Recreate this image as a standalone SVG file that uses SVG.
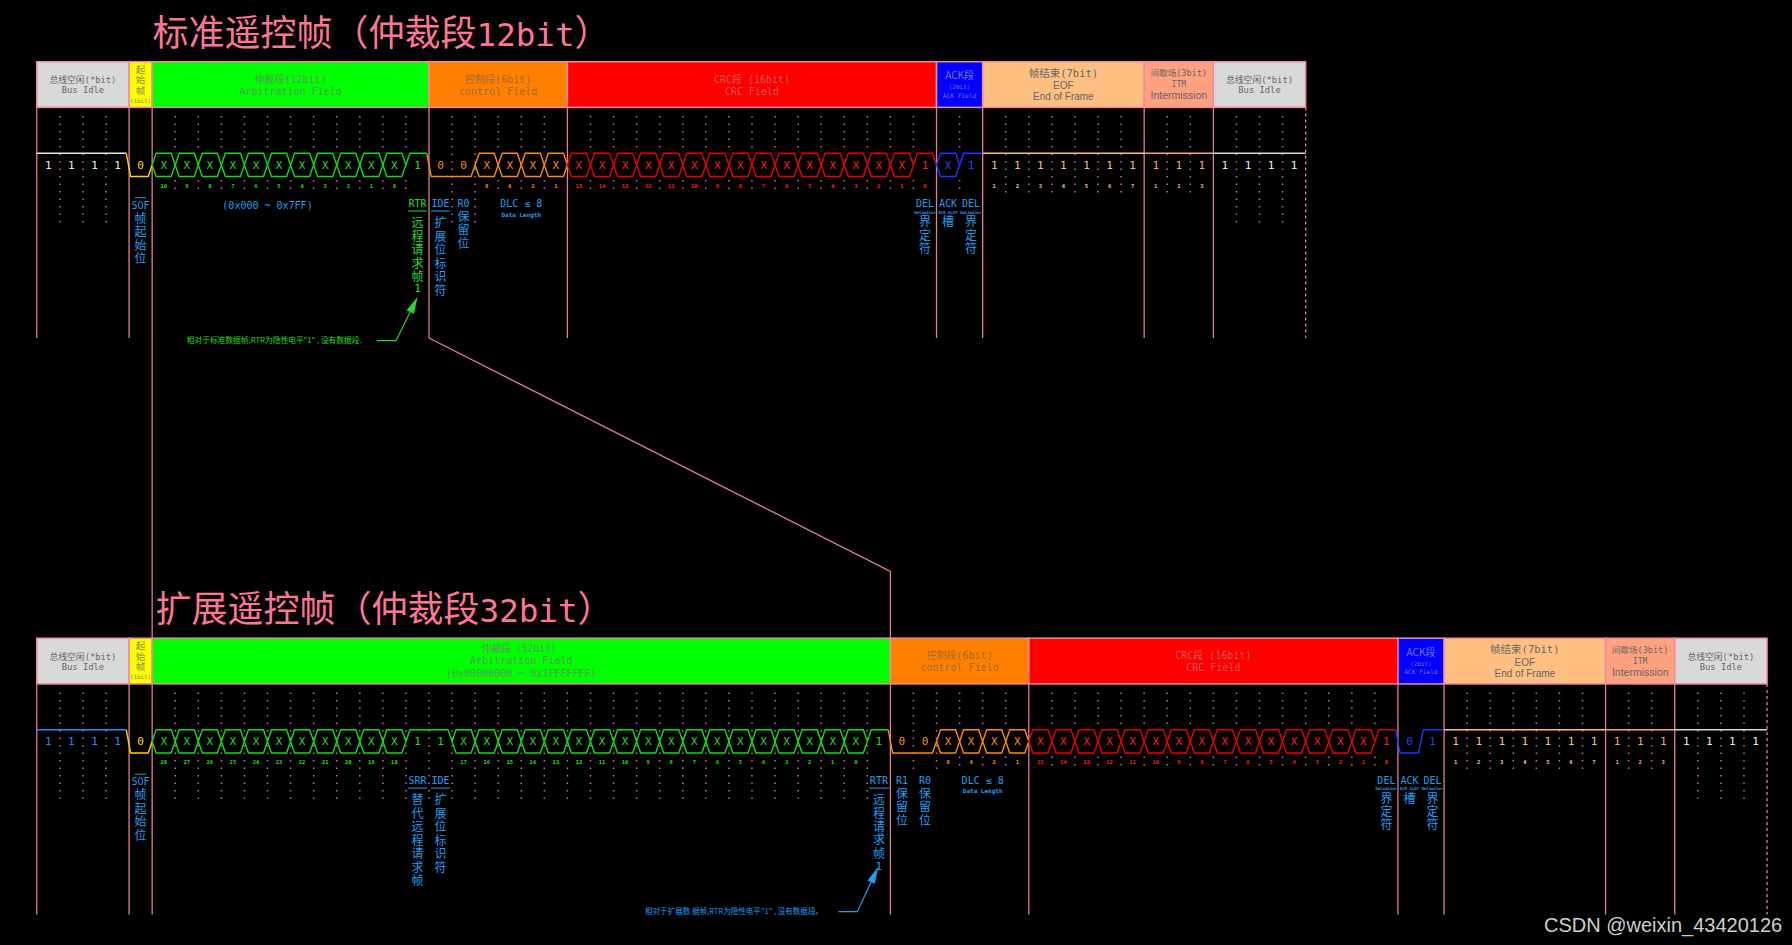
<svg xmlns="http://www.w3.org/2000/svg" width="1792" height="945" viewBox="0 0 1792 945">
<style>
.mono{font-family:"DejaVu Sans Mono","Noto Sans CJK SC",monospace}
.cjk{font-family:"Noto Sans CJK SC","DejaVu Sans",sans-serif}
.sans{font-family:"Liberation Sans","Noto Sans CJK SC",sans-serif}
.ht{text-anchor:middle}
.hdr{stroke:#f08c9c;stroke-width:1.5}
.vl{stroke:#e27d93;stroke-width:1.3;fill:none}
.vd{stroke:#e27d93;stroke-width:1.3;fill:none;stroke-dasharray:3 3}
.dot{stroke:#c8708a;stroke-width:1.5;stroke-dasharray:1.5 6;fill:none}
.w{fill:none;stroke-width:1.4;stroke-linejoin:round}
.val{font-family:"DejaVu Sans Mono",monospace;font-size:11px;text-anchor:middle}
.num{font-family:"DejaVu Sans Mono",monospace;font-size:5.5px;font-weight:bold;text-anchor:middle}
.lab{fill:#1e9ff0}
.title{font-family:"Noto Sans CJK SC","DejaVu Sans Mono",sans-serif;font-size:36px;fill:#ff7596}
.tmono{font-family:"DejaVu Sans Mono",monospace;font-size:32.6px}
.tiny{font-size:4px;font-weight:bold}
</style>
<defs>
<path id="hx" d="M0,0L4,-11.6H19.07L23.07,0L19.07,11.6H4Z" fill="none"/>
</defs>
<rect x="0" y="0" width="1792" height="945" fill="#000"/>

<!-- ================= STANDARD REMOTE FRAME ================= -->
<g id="std-frame">
<g id="std-title"><text class="title" x="152.5" y="45.6">标准遥控帧（仲裁段<tspan class="tmono">12bit</tspan>）</text></g>

<g id="std-header">
<g id="std-busidle1"><rect class="hdr" x="36.8" y="61.7" width="92.28" height="45.7" fill="#d9d9d9"/>
<text class="ht mono" x="82.94" y="83.3" font-size="8.8" fill="#666">总线空闲(*bit)</text><text class="ht mono" x="82.94" y="93.3" font-size="8.8" fill="#666">Bus Idle</text></g>
<g id="std-sof"><rect class="hdr" x="129.08" y="61.7" width="23.07" height="45.7" fill="#ffff00"/>
<text class="ht cjk" x="140.6" y="72.6" font-size="9.5" fill="#8a8a50">起</text><text class="ht cjk" x="140.6" y="83.2" font-size="9.5" fill="#8a8a50">始</text><text class="ht cjk" x="140.6" y="93.8" font-size="9.5" fill="#8a8a50">帧</text><text class="ht mono" x="140.6" y="102.8" font-size="5.8" fill="#8a8a50">(1bit)</text></g>
<g id="std-arb"><rect class="hdr" x="152.15" y="61.7" width="276.85" height="45.7" fill="#00ff00"/>
<text class="ht mono" x="290.6" y="82.8" font-size="10" fill="#5a9a5a">仲裁段(12bit)</text><text class="ht mono" x="290.6" y="94.6" font-size="10" fill="#5a9a5a">Arbitration Field</text></g>
<g id="std-ctrl"><rect class="hdr" x="429" y="61.7" width="138.41" height="45.7" fill="#ff8000"/>
<text class="ht mono" x="498.2" y="82.8" font-size="10" fill="#a86a30">控制段(6bit)</text><text class="ht mono" x="498.2" y="94.6" font-size="10" fill="#a86a30">control Field</text></g>
<g id="std-crc"><rect class="hdr" x="567.41" y="61.7" width="369.12" height="45.7" fill="#ff0000"/>
<text class="ht mono" x="752" y="82.8" font-size="10" fill="#c45a5a">CRC段 (16bit)</text><text class="ht mono" x="752" y="94.6" font-size="10" fill="#c45a5a">CRC Field</text></g>
<g id="std-ack"><rect class="hdr" x="936.53" y="61.7" width="46.14" height="45.7" fill="#0000ff"/>
<text class="ht cjk" x="959.6" y="79.4" font-size="10" fill="#7474c8">ACK段</text><text class="ht mono" x="959.6" y="89.2" font-size="6" fill="#7474c8">(2bit)</text><text class="ht mono" x="959.6" y="97.8" font-size="6.2" fill="#7474c8">ACK Field</text></g>
<g id="std-eof"><rect class="hdr" x="982.67" y="61.7" width="161.49" height="45.7" fill="#ffbf80"/>
<text class="ht mono" x="1063.4" y="76.8" font-size="10.5" fill="#666">帧结束(7bit)</text><text class="ht sans" x="1063.4" y="89" font-size="10" fill="#666">EOF</text><text class="ht sans" x="1063.4" y="100.2" font-size="10" fill="#666">End of Frame</text></g>
<g id="std-itm"><rect class="hdr" x="1144.16" y="61.7" width="69.21" height="45.7" fill="#ffa080"/>
<text class="ht mono" x="1178.8" y="76.2" font-size="8.5" fill="#666">间歇场(3bit)</text><text class="ht mono" x="1178.8" y="87" font-size="8" fill="#666">ITM</text><text class="ht sans" x="1178.8" y="99.4" font-size="10.5" fill="#666">Intermission</text></g>
<g id="std-busidle2"><rect class="hdr" x="1213.37" y="61.7" width="92.28" height="45.7" fill="#d9d9d9"/>
<text class="ht mono" x="1259.5" y="83.3" font-size="8.8" fill="#666">总线空闲(*bit)</text><text class="ht mono" x="1259.5" y="93.3" font-size="8.8" fill="#666">Bus Idle</text></g>
</g>

<g id="std-grid">
<path class="vl" d="M36.8,107.4V338M129.08,107.4V338M152.15,107.4V338M429,107.4V338M567.41,107.4V338M936.53,107.4V338M982.67,107.4V338M1144.16,107.4V338M1213.37,107.4V338"/>
<path class="vd" d="M1305.65,107.4V338"/>
<path class="dot" d="M59.87,116V223M82.94,116V223M106.01,116V223M452.06,116V223M475.13,116V223M1236.44,116V223M1259.51,116V223M1282.58,116V223
M175.22,116V149M175.22,180V193M198.29,116V149M198.29,180V193M221.36,116V149M221.36,180V193M244.43,116V149M244.43,180V193M267.5,116V149M267.5,180V193M290.57,116V149M290.57,180V193M313.64,116V149M313.64,180V193M336.71,116V149M336.71,180V193M359.78,116V149M359.78,180V193M382.85,116V149M382.85,180V193M405.92,116V149M405.92,180V193
M498.2,116V149M498.2,180V193M521.27,116V149M521.27,180V193M544.34,116V149M544.34,180V193
M590.48,116V149M590.48,180V193M613.55,116V149M613.55,180V193M636.62,116V149M636.62,180V193M659.69,116V149M659.69,180V193M682.76,116V149M682.76,180V193M705.83,116V149M705.83,180V193M728.9,116V149M728.9,180V193M751.97,116V149M751.97,180V193M775.04,116V149M775.04,180V193M798.11,116V149M798.11,180V193M821.18,116V149M821.18,180V193M844.25,116V149M844.25,180V193M867.32,116V149M867.32,180V193M890.39,116V149M890.39,180V193M913.46,116V149M913.46,180V193M959.6,116V149M959.6,180V193
M1005.74,116V193M1028.81,116V193M1051.88,116V193M1074.95,116V193M1098.02,116V193M1121.09,116V193M1167.23,116V193M1190.3,116V193"/>
</g>

<g id="std-wave">
<path class="w" stroke="#e8e8e8" d="M36.8,153.3H126.3"/>
<path class="w" stroke="#ffd400" d="M126.3,153.3L130.6,176.5H148.2L152.15,164.9"/>
<g stroke="#11dd11" stroke-width="1.4">
<use href="#hx" x="152.15" y="164.9"/><use href="#hx" x="175.22" y="164.9"/><use href="#hx" x="198.29" y="164.9"/><use href="#hx" x="221.36" y="164.9"/><use href="#hx" x="244.43" y="164.9"/><use href="#hx" x="267.5" y="164.9"/><use href="#hx" x="290.57" y="164.9"/><use href="#hx" x="313.64" y="164.9"/><use href="#hx" x="336.71" y="164.9"/><use href="#hx" x="359.78" y="164.9"/><use href="#hx" x="382.85" y="164.9"/>
</g>
<path class="w" stroke="#11dd11" d="M405.92,164.9L409.9,153.3H426.8"/>
<path class="w" stroke="#ff8c00" d="M426.8,153.3L431.2,176.5H471.1L475.13,164.9"/>
<g stroke="#ff8c00" stroke-width="1.4">
<use href="#hx" x="475.13" y="164.9"/><use href="#hx" x="498.2" y="164.9"/><use href="#hx" x="521.27" y="164.9"/><use href="#hx" x="544.34" y="164.9"/>
</g>
<g stroke="#e60000" stroke-width="1.4">
<use href="#hx" x="567.41" y="164.9"/><use href="#hx" x="590.48" y="164.9"/><use href="#hx" x="613.55" y="164.9"/><use href="#hx" x="636.62" y="164.9"/><use href="#hx" x="659.69" y="164.9"/><use href="#hx" x="682.76" y="164.9"/><use href="#hx" x="705.83" y="164.9"/><use href="#hx" x="728.9" y="164.9"/><use href="#hx" x="751.97" y="164.9"/><use href="#hx" x="775.04" y="164.9"/><use href="#hx" x="798.11" y="164.9"/><use href="#hx" x="821.18" y="164.9"/><use href="#hx" x="844.25" y="164.9"/><use href="#hx" x="867.32" y="164.9"/><use href="#hx" x="890.39" y="164.9"/>
</g>
<path class="w" stroke="#e60000" d="M913.46,164.9L917.4,153.3H932.5L936.53,164.9"/>
<use href="#hx" x="936.53" y="164.9" stroke="#1a35ff" stroke-width="1.4"/>
<path class="w" stroke="#1a35ff" d="M959.6,164.9L963.6,153.3H982.67"/>
<path class="w" stroke="#ffbf80" d="M982.67,153.3H1144.16"/>
<path class="w" stroke="#ffa080" d="M1144.16,153.3H1213.37"/>
<path class="w" stroke="#d8d8d8" d="M1213.37,153.3H1305.65"/>

<text class="val" fill="#e6ecf8" x="48.3 71.4 94.5 117.5" y="168.9">1111</text>
<text class="val" fill="#ffd700" x="140.6" y="168.9">0</text>
<text class="val" fill="#22dd22" x="163.7 186.8 209.8 232.9 256.0 279.0 302.1 325.2 348.3 371.3 394.4 417.5" y="168.9">XXXXXXXXXXX1</text>
<text class="val" fill="#ff8c00" x="440.5 463.6 486.7 509.7 532.8 555.9" y="168.9">00XXXX</text>
<text class="val" fill="#ff1a1a" x="578.9 602.0 625.1 648.2 671.2 694.3 717.4 740.4 763.5 786.6 809.6 832.7 855.8 878.9 901.9 925.0" y="168.9">XXXXXXXXXXXXXXX1</text>
<text class="val" fill="#2040ff" x="948.1 971.1" y="168.9">X1</text>
<text class="val" fill="#ffbf80" x="994.2 1017.3 1040.3 1063.4 1086.5 1109.6 1132.6" y="168.9">1111111</text>
<text class="val" fill="#ffa080" x="1155.7 1178.8 1201.8" y="168.9">111</text>
<text class="val" fill="#e6ecf8" x="1224.9 1248.0 1271.0 1294.1" y="168.9">1111</text>

<text class="num" fill="#22dd22" y="187.5"><tspan x="163.7">10</tspan><tspan x="186.8">9</tspan><tspan x="209.8">8</tspan><tspan x="232.9">7</tspan><tspan x="256.0">6</tspan><tspan x="279.0">5</tspan><tspan x="302.1">4</tspan><tspan x="325.2">3</tspan><tspan x="348.3">2</tspan><tspan x="371.3">1</tspan><tspan x="394.4">0</tspan></text>
<text class="num" fill="#ff8c00" x="486.7 509.7 532.8 555.9" y="187.5">8421</text>
<text class="num" fill="#ff1a1a" y="187.5"><tspan x="578.9">15</tspan><tspan x="602.0">14</tspan><tspan x="625.1">13</tspan><tspan x="648.2">12</tspan><tspan x="671.2">11</tspan><tspan x="694.3">10</tspan><tspan x="717.4">9</tspan><tspan x="740.4">8</tspan><tspan x="763.5">7</tspan><tspan x="786.6">6</tspan><tspan x="809.6">5</tspan><tspan x="832.7">4</tspan><tspan x="855.8">3</tspan><tspan x="878.9">2</tspan><tspan x="901.9">1</tspan><tspan x="925.0">0</tspan></text>
<text class="num" fill="#ffbf80" x="994.2 1017.3 1040.3 1063.4 1086.5 1109.6 1132.6" y="187.5">1234567</text>
<text class="num" fill="#ffa080" x="1155.7 1178.8 1201.8" y="187.5">123</text>
</g>

<g id="std-labels">
<g id="std-sof-label"><line x1="135" y1="197.7" x2="146" y2="197.7" stroke="#1e9ff0"/>
<text class="lab mono ht" x="140.6" y="208.6" font-size="10">SOF</text>
<text class="lab cjk ht" font-size="12"><tspan x="140.6" y="222.9">帧</tspan><tspan x="140.6" y="236.3">起</tspan><tspan x="140.6" y="249.7">始</tspan><tspan x="140.6" y="263.1">位</tspan></text></g>
<g id="std-id-range"><text class="lab mono ht" x="267.5" y="208.6" font-size="10">(0x000 ~ 0x7FF)</text></g>
<g id="std-rtr-label"><text class="mono ht" x="417.5" y="207" font-size="10" fill="#22dd22">RTR</text>
<line x1="408" y1="211" x2="427" y2="211" stroke="#22dd22"/>
<text class="cjk ht" font-size="12" fill="#22dd22"><tspan x="417.5" y="227.3">远</tspan><tspan x="417.5" y="240.7">程</tspan><tspan x="417.5" y="254.1">请</tspan><tspan x="417.5" y="267.5">求</tspan><tspan x="417.5" y="280.9">帧</tspan></text>
<text class="mono ht" x="417.5" y="292.3" font-size="11" fill="#22dd22">1</text></g>
<g id="std-ide-label"><text class="lab mono ht" x="440.5" y="207" font-size="10">IDE</text>
<line x1="431" y1="211" x2="450" y2="211" stroke="#1e9ff0"/>
<text class="lab cjk ht" font-size="12"><tspan x="440.5" y="227.3">扩</tspan><tspan x="440.5" y="240.8">展</tspan><tspan x="440.5" y="254.3">位</tspan><tspan x="440.5" y="267.8">标</tspan><tspan x="440.5" y="281.3">识</tspan><tspan x="440.5" y="294.8">符</tspan></text></g>
<g id="std-r0-label"><text class="lab mono ht" x="463.6" y="207" font-size="10">R0</text>
<text class="lab cjk ht" font-size="12"><tspan x="463.6" y="220.6">保</tspan><tspan x="463.6" y="234.1">留</tspan><tspan x="463.6" y="247.6">位</tspan></text></g>
<g id="std-dlc-label"><text class="lab mono ht" x="521.3" y="207" font-size="10">DLC ≤ 8</text>
<text class="lab mono ht" x="521.3" y="217.2" font-size="6" font-weight="bold">Data Length</text></g>
<g id="std-crcdel-label"><text class="lab mono ht" x="925" y="207" font-size="10">DEL</text>
<text class="lab mono ht tiny" x="925" y="213.6">Delimiter</text>
<text class="lab cjk ht" font-size="12"><tspan x="925" y="226.3">界</tspan><tspan x="925" y="239.6">定</tspan><tspan x="925" y="252.9">符</tspan></text></g>
<g id="std-ackslot-label"><text class="lab mono ht" x="948.1" y="207" font-size="10">ACK</text>
<text class="lab mono ht tiny" x="948.1" y="213.6">ACK SLOT</text>
<text class="lab cjk ht" x="948.1" y="226.3" font-size="12">槽</text></g>
<g id="std-ackdel-label"><text class="lab mono ht" x="971.1" y="207" font-size="10">DEL</text>
<text class="lab mono ht tiny" x="971.1" y="213.6">Delimiter</text>
<text class="lab cjk ht" font-size="12"><tspan x="971.1" y="226.3">界</tspan><tspan x="971.1" y="239.6">定</tspan><tspan x="971.1" y="252.9">符</tspan></text></g>
</g>
<g id="std-note"><text class="cjk" x="186.7" y="343.3" font-size="7.5" fill="#22dd22" textLength="175" lengthAdjust="spacingAndGlyphs">相对于标准数据帧,RTR为隐性电平&quot;1&quot; , 没有数据段.</text></g>
</g>

<!-- ================= EXTENDED REMOTE FRAME ================= -->
<g id="ext-frame" transform="translate(0,576.5)">
<g id="ext-title"><text class="title" x="155.5" y="45.6">扩展遥控帧（仲裁段<tspan class="tmono">32bit</tspan>）</text></g>

<g id="ext-header">
<g id="ext-busidle1"><rect class="hdr" x="36.8" y="61.7" width="92.28" height="45.7" fill="#d9d9d9"/>
<text class="ht mono" x="82.94" y="83.3" font-size="8.8" fill="#666">总线空闲(*bit)</text><text class="ht mono" x="82.94" y="93.3" font-size="8.8" fill="#666">Bus Idle</text></g>
<g id="ext-sof"><rect class="hdr" x="129.08" y="61.7" width="23.07" height="45.7" fill="#ffff00"/>
<text class="ht cjk" x="140.6" y="72.6" font-size="9.5" fill="#8a8a50">起</text><text class="ht cjk" x="140.6" y="83.2" font-size="9.5" fill="#8a8a50">始</text><text class="ht cjk" x="140.6" y="93.8" font-size="9.5" fill="#8a8a50">帧</text><text class="ht mono" x="140.6" y="102.8" font-size="5.8" fill="#8a8a50">(1bit)</text></g>
<g id="ext-arb"><rect class="hdr" x="152.15" y="61.7" width="738.24" height="45.7" fill="#00ff00"/>
<text class="ht mono" x="521.3" y="75.3" font-size="10" fill="#5a9a5a">仲裁段（32bit）</text><text class="ht mono" x="521.3" y="87.1" font-size="10" fill="#5a9a5a">Arbitration Field</text><text class="ht mono" x="521.3" y="100.5" font-size="10" fill="#5a9a5a">(0x00000000 ~ 0x1FFFFFFF)</text></g>
<g id="ext-ctrl"><rect class="hdr" x="890.39" y="61.7" width="138.42" height="45.7" fill="#ff8000"/>
<text class="ht mono" x="959.6" y="82.8" font-size="10" fill="#a86a30">控制段(6bit)</text><text class="ht mono" x="959.6" y="94.6" font-size="10" fill="#a86a30">control Field</text></g>
<g id="ext-crc"><rect class="hdr" x="1028.81" y="61.7" width="369.12" height="45.7" fill="#ff0000"/>
<text class="ht mono" x="1213.4" y="82.8" font-size="10" fill="#c45a5a">CRC段 (16bit)</text><text class="ht mono" x="1213.4" y="94.6" font-size="10" fill="#c45a5a">CRC Field</text></g>
<g id="ext-ack"><rect class="hdr" x="1397.93" y="61.7" width="46.14" height="45.7" fill="#0000ff"/>
<text class="ht cjk" x="1421" y="79.4" font-size="10" fill="#7474c8">ACK段</text><text class="ht mono" x="1421" y="89.2" font-size="6" fill="#7474c8">(2bit)</text><text class="ht mono" x="1421" y="97.8" font-size="6.2" fill="#7474c8">ACK Field</text></g>
<g id="ext-eof"><rect class="hdr" x="1444.07" y="61.7" width="161.49" height="45.7" fill="#ffbf80"/>
<text class="ht mono" x="1524.8" y="76.8" font-size="10.5" fill="#666">帧结束(7bit)</text><text class="ht sans" x="1524.8" y="89" font-size="10" fill="#666">EOF</text><text class="ht sans" x="1524.8" y="100.2" font-size="10" fill="#666">End of Frame</text></g>
<g id="ext-itm"><rect class="hdr" x="1605.56" y="61.7" width="69.21" height="45.7" fill="#ffa080"/>
<text class="ht mono" x="1640.2" y="76.2" font-size="8.5" fill="#666">间歇场(3bit)</text><text class="ht mono" x="1640.2" y="87" font-size="8" fill="#666">ITM</text><text class="ht sans" x="1640.2" y="99.4" font-size="10.5" fill="#666">Intermission</text></g>
<g id="ext-busidle2"><rect class="hdr" x="1674.77" y="61.7" width="92.28" height="45.7" fill="#d9d9d9"/>
<text class="ht mono" x="1720.9" y="83.3" font-size="8.8" fill="#666">总线空闲(*bit)</text><text class="ht mono" x="1720.9" y="93.3" font-size="8.8" fill="#666">Bus Idle</text></g>
</g>

<g id="ext-grid">
<path class="vl" d="M36.8,107.4V338M129.08,107.4V338M152.15,107.4V338M890.39,107.4V338M1028.81,107.4V338M1397.93,107.4V338M1444.07,107.4V338M1605.56,107.4V338M1674.77,107.4V338"/>
<path class="vd" d="M1767.05,107.4V338"/>
<path class="dot" d="M59.87,116V223M82.94,116V223M106.01,116V223
M175.22,116V223M198.29,116V223M221.36,116V223M244.43,116V223M267.5,116V223M290.57,116V223M313.64,116V223M336.71,116V223M359.78,116V223M382.85,116V223M405.92,116V223M429,116V223M452.06,116V223M475.13,116V223M498.2,116V223M521.27,116V223M544.34,116V223M567.41,116V223M590.48,116V223M613.55,116V223M636.62,116V223M659.69,116V223M682.76,116V223M705.83,116V223M728.9,116V223M751.97,116V223M775.04,116V223M798.11,116V223M821.18,116V223M844.25,116V223M867.32,116V223
M1697.84,116V223M1720.91,116V223M1743.98,116V223
M913.46,116V193M936.53,116V193
M959.6,116V149M959.6,180V193M982.67,116V149M982.67,180V193M1005.74,116V149M1005.74,180V193
M1051.88,116V149M1051.88,180V193M1074.95,116V149M1074.95,180V193M1098.02,116V149M1098.02,180V193M1121.09,116V149M1121.09,180V193M1144.16,116V149M1144.16,180V193M1167.23,116V149M1167.23,180V193M1190.3,116V149M1190.3,180V193M1213.37,116V149M1213.37,180V193M1236.44,116V149M1236.44,180V193M1259.51,116V149M1259.51,180V193M1282.58,116V149M1282.58,180V193M1305.65,116V149M1305.65,180V193M1328.72,116V149M1328.72,180V193M1351.79,116V149M1351.79,180V193M1374.86,116V149M1374.86,180V193
M1467.14,116V193M1490.21,116V193M1513.28,116V193M1536.35,116V193M1559.42,116V193M1582.49,116V193M1628.63,116V193M1651.7,116V193"/>
</g>

<g id="ext-wave">
<path class="w" stroke="#1e90ff" d="M36.8,153.3H126.3"/>
<path class="w" stroke="#ffd400" d="M126.3,153.3L130.6,176.5H148.2L152.15,164.9"/>
<g stroke="#11dd11" stroke-width="1.4">
<use href="#hx" x="152.15" y="164.9"/><use href="#hx" x="175.22" y="164.9"/><use href="#hx" x="198.29" y="164.9"/><use href="#hx" x="221.36" y="164.9"/><use href="#hx" x="244.43" y="164.9"/><use href="#hx" x="267.5" y="164.9"/><use href="#hx" x="290.57" y="164.9"/><use href="#hx" x="313.64" y="164.9"/><use href="#hx" x="336.71" y="164.9"/><use href="#hx" x="359.78" y="164.9"/><use href="#hx" x="382.85" y="164.9"/>
<use href="#hx" x="452.06" y="164.9"/><use href="#hx" x="475.13" y="164.9"/><use href="#hx" x="498.2" y="164.9"/><use href="#hx" x="521.27" y="164.9"/><use href="#hx" x="544.34" y="164.9"/><use href="#hx" x="567.41" y="164.9"/><use href="#hx" x="590.48" y="164.9"/><use href="#hx" x="613.55" y="164.9"/><use href="#hx" x="636.62" y="164.9"/><use href="#hx" x="659.69" y="164.9"/><use href="#hx" x="682.76" y="164.9"/><use href="#hx" x="705.83" y="164.9"/><use href="#hx" x="728.9" y="164.9"/><use href="#hx" x="751.97" y="164.9"/><use href="#hx" x="775.04" y="164.9"/><use href="#hx" x="798.11" y="164.9"/><use href="#hx" x="821.18" y="164.9"/><use href="#hx" x="844.25" y="164.9"/>
</g>
<path class="w" stroke="#11dd11" d="M405.92,164.9L409.9,153.3H448.06L452.06,164.9"/>
<path class="w" stroke="#11dd11" d="M867.32,164.9L871.3,153.3H888.2"/>
<path class="w" stroke="#ff8c00" d="M888.2,153.3L892.6,176.5H932.5L936.53,164.9"/>
<g stroke="#ff8c00" stroke-width="1.4">
<use href="#hx" x="936.53" y="164.9"/><use href="#hx" x="959.6" y="164.9"/><use href="#hx" x="982.67" y="164.9"/><use href="#hx" x="1005.74" y="164.9"/>
</g>
<g stroke="#e60000" stroke-width="1.4">
<use href="#hx" x="1028.81" y="164.9"/><use href="#hx" x="1051.88" y="164.9"/><use href="#hx" x="1074.95" y="164.9"/><use href="#hx" x="1098.02" y="164.9"/><use href="#hx" x="1121.09" y="164.9"/><use href="#hx" x="1144.16" y="164.9"/><use href="#hx" x="1167.23" y="164.9"/><use href="#hx" x="1190.3" y="164.9"/><use href="#hx" x="1213.37" y="164.9"/><use href="#hx" x="1236.44" y="164.9"/><use href="#hx" x="1259.51" y="164.9"/><use href="#hx" x="1282.58" y="164.9"/><use href="#hx" x="1305.65" y="164.9"/><use href="#hx" x="1328.72" y="164.9"/><use href="#hx" x="1351.79" y="164.9"/>
</g>
<path class="w" stroke="#e60000" d="M1374.86,164.9L1378.9,153.3H1395.7"/>
<path class="w" stroke="#1a35ff" d="M1395.7,153.3L1400.1,176.5H1418.6L1423.2,153.3H1444.07"/>
<path class="w" stroke="#ffbf80" d="M1444.07,153.3H1605.56"/>
<path class="w" stroke="#ffa080" d="M1605.56,153.3H1674.77"/>
<path class="w" stroke="#d8d8d8" d="M1674.77,153.3H1767.05"/>

<text class="val" fill="#1e90ff" x="48.3 71.4 94.5 117.5" y="168.9">1111</text>
<text class="val" fill="#ffd700" x="140.6" y="168.9">0</text>
<text class="val" fill="#22dd22" x="163.7 186.8 209.8 232.9 256.0 279.0 302.1 325.2 348.3 371.3 394.4 417.5 440.5 463.6 486.7 509.7 532.8 555.9 578.9 602.0 625.1 648.2 671.2 694.3 717.4 740.4 763.5 786.6 809.6 832.7 855.8 878.9" y="168.9">XXXXXXXXXXX11XXXXXXXXXXXXXXXXXX1</text>
<text class="val" fill="#ff8c00" x="901.9 925.0 948.1 971.1 994.2 1017.3" y="168.9">00XXXX</text>
<text class="val" fill="#ff1a1a" x="1040.3 1063.4 1086.5 1109.6 1132.6 1155.7 1178.8 1201.8 1224.9 1248.0 1271.0 1294.1 1317.2 1340.3 1363.3 1386.4" y="168.9">XXXXXXXXXXXXXXX1</text>
<text class="val" fill="#2040ff" x="1409.5 1432.5" y="168.9">01</text>
<text class="val" fill="#ffbf80" x="1455.6 1478.7 1501.7 1524.8 1547.9 1571.0 1594.0" y="168.9">1111111</text>
<text class="val" fill="#ffa080" x="1617.1 1640.2 1663.2" y="168.9">111</text>
<text class="val" fill="#e6ecf8" x="1686.3 1709.4 1732.4 1755.5" y="168.9">1111</text>

<text class="num" fill="#22dd22" y="187.5"><tspan x="163.7">28</tspan><tspan x="186.8">27</tspan><tspan x="209.8">26</tspan><tspan x="232.9">25</tspan><tspan x="256.0">24</tspan><tspan x="279.0">23</tspan><tspan x="302.1">22</tspan><tspan x="325.2">21</tspan><tspan x="348.3">20</tspan><tspan x="371.3">19</tspan><tspan x="394.4">18</tspan><tspan x="463.6">17</tspan><tspan x="486.7">16</tspan><tspan x="509.7">15</tspan><tspan x="532.8">14</tspan><tspan x="555.9">13</tspan><tspan x="578.9">12</tspan><tspan x="602.0">11</tspan><tspan x="625.1">10</tspan><tspan x="648.2">9</tspan><tspan x="671.2">8</tspan><tspan x="694.3">7</tspan><tspan x="717.4">6</tspan><tspan x="740.4">5</tspan><tspan x="763.5">4</tspan><tspan x="786.6">3</tspan><tspan x="809.6">2</tspan><tspan x="832.7">1</tspan><tspan x="855.8">0</tspan></text>
<text class="num" fill="#ff8c00" x="948.1 971.1 994.2 1017.3" y="187.5">8421</text>
<text class="num" fill="#ff1a1a" y="187.5"><tspan x="1040.3">15</tspan><tspan x="1063.4">14</tspan><tspan x="1086.5">13</tspan><tspan x="1109.6">12</tspan><tspan x="1132.6">11</tspan><tspan x="1155.7">10</tspan><tspan x="1178.8">9</tspan><tspan x="1201.8">8</tspan><tspan x="1224.9">7</tspan><tspan x="1248.0">6</tspan><tspan x="1271.0">5</tspan><tspan x="1294.1">4</tspan><tspan x="1317.2">3</tspan><tspan x="1340.3">2</tspan><tspan x="1363.3">1</tspan><tspan x="1386.4">0</tspan></text>
<text class="num" fill="#ffbf80" x="1455.6 1478.7 1501.7 1524.8 1547.9 1571.0 1594.0" y="187.5">1234567</text>
<text class="num" fill="#ffa080" x="1617.1 1640.2 1663.2" y="187.5">123</text>
</g>

<g id="ext-labels">
<g id="ext-sof-label"><line x1="135" y1="197.7" x2="146" y2="197.7" stroke="#1e9ff0"/>
<text class="lab mono ht" x="140.6" y="208.6" font-size="10">SOF</text>
<text class="lab cjk ht" font-size="12"><tspan x="140.6" y="222.9">帧</tspan><tspan x="140.6" y="236.3">起</tspan><tspan x="140.6" y="249.7">始</tspan><tspan x="140.6" y="263.1">位</tspan></text></g>
<g id="ext-srr-label"><text class="lab mono ht" x="417.5" y="207" font-size="10">SRR</text>
<line x1="408" y1="211.6" x2="427" y2="211.6" stroke="#1e9ff0"/>
<text class="lab cjk ht" font-size="12"><tspan x="417.5" y="227.9">替</tspan><tspan x="417.5" y="241.4">代</tspan><tspan x="417.5" y="254.9">远</tspan><tspan x="417.5" y="268.4">程</tspan><tspan x="417.5" y="281.9">请</tspan><tspan x="417.5" y="295.4">求</tspan><tspan x="417.5" y="308.9">帧</tspan></text></g>
<g id="ext-ide-label"><text class="lab mono ht" x="440.5" y="207" font-size="10">IDE</text>
<line x1="431" y1="211.6" x2="450" y2="211.6" stroke="#1e9ff0"/>
<text class="lab cjk ht" font-size="12"><tspan x="440.5" y="227.9">扩</tspan><tspan x="440.5" y="241.4">展</tspan><tspan x="440.5" y="254.9">位</tspan><tspan x="440.5" y="268.4">标</tspan><tspan x="440.5" y="281.9">识</tspan><tspan x="440.5" y="295.4">符</tspan></text></g>
<g id="ext-rtr-label"><text class="lab mono ht" x="878.9" y="207" font-size="10">RTR</text>
<line x1="869" y1="211.6" x2="889" y2="211.6" stroke="#1e9ff0"/>
<text class="lab cjk ht" font-size="12"><tspan x="878.9" y="227.9">远</tspan><tspan x="878.9" y="241.2">程</tspan><tspan x="878.9" y="254.5">请</tspan><tspan x="878.9" y="267.8">求</tspan><tspan x="878.9" y="281.1">帧</tspan></text>
<text class="lab mono ht" x="878.9" y="293" font-size="11">1</text></g>
<g id="ext-r1-label"><text class="lab mono ht" x="901.9" y="207" font-size="10">R1</text>
<text class="lab cjk ht" font-size="12"><tspan x="901.9" y="221.2">保</tspan><tspan x="901.9" y="234.6">留</tspan><tspan x="901.9" y="248">位</tspan></text></g>
<g id="ext-r0-label"><text class="lab mono ht" x="925" y="207" font-size="10">R0</text>
<text class="lab cjk ht" font-size="12"><tspan x="925" y="221.2">保</tspan><tspan x="925" y="234.6">留</tspan><tspan x="925" y="248">位</tspan></text></g>
<g id="ext-dlc-label"><text class="lab mono ht" x="982.7" y="207" font-size="10">DLC ≤ 8</text>
<text class="lab mono ht" x="982.7" y="216.4" font-size="6" font-weight="bold">Data Length</text></g>
<g id="ext-crcdel-label"><text class="lab mono ht" x="1386.4" y="207" font-size="10">DEL</text>
<text class="lab mono ht tiny" x="1386.4" y="213.6">Delimiter</text>
<text class="lab cjk ht" font-size="12"><tspan x="1386.4" y="226.3">界</tspan><tspan x="1386.4" y="239.6">定</tspan><tspan x="1386.4" y="252.9">符</tspan></text></g>
<g id="ext-ackslot-label"><text class="lab mono ht" x="1409.5" y="207" font-size="10">ACK</text>
<text class="lab mono ht tiny" x="1409.5" y="213.6">ACK SLOT</text>
<text class="lab cjk ht" x="1409.5" y="226.3" font-size="12">槽</text></g>
<g id="ext-ackdel-label"><text class="lab mono ht" x="1432.5" y="207" font-size="10">DEL</text>
<text class="lab mono ht tiny" x="1432.5" y="213.6">Delimiter</text>
<text class="lab cjk ht" font-size="12"><tspan x="1432.5" y="226.3">界</tspan><tspan x="1432.5" y="239.6">定</tspan><tspan x="1432.5" y="252.9">符</tspan></text></g>
</g>
<g id="ext-note"><text class="cjk" x="645" y="337.8" font-size="7.5" fill="#1e9ff0" textLength="178" lengthAdjust="spacingAndGlyphs">相对于扩展数 据帧,RTR为隐性电平&quot;1&quot; , 没有数据段。</text></g>
</g>

<!-- ================= CONNECTORS ================= -->
<g id="connectors">
<path class="vl" d="M152.15,338V638"/>
<path class="vl" d="M429,338L890.39,571.4V638"/>
<path fill="none" stroke="#22dd22" stroke-width="1.2" d="M376.7,340.7H396L410.2,312"/>
<polygon fill="#22dd22" points="417.7,296.7 413.8,313.7 406.6,310.2"/>
<path fill="none" stroke="#1e9ff0" stroke-width="1.2" d="M838.3,911.7H857.3L871.1,882.1"/>
<polygon fill="#1e9ff0" points="878.3,866.7 874.7,883.8 867.5,880.4"/>
</g>

<g id="watermark"><text class="sans" x="1544" y="932" font-size="20" fill="#cfcfcf">CSDN @weixin_43420126</text></g>
</svg>
